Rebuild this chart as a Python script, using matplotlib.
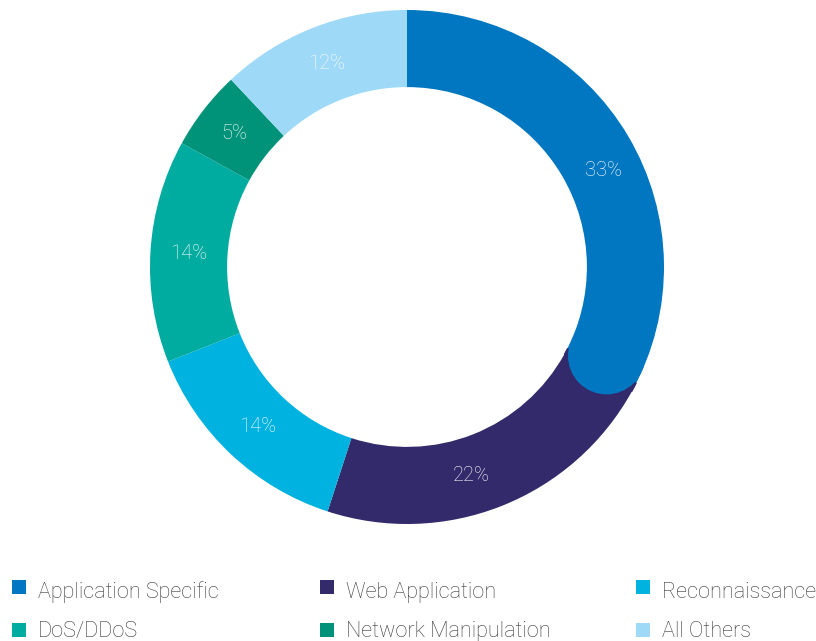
import numpy as np
import matplotlib
matplotlib.use("Agg")
import matplotlib.pyplot as plt
from matplotlib.patches import Circle, Rectangle, Wedge

categories = ["Application Specific", "Web Application", "Reconnaissance",
              "DoS/DDoS", "Network Manipulation", "All Others"]
values = [33, 22, 14, 14, 5, 12]
colors = ["#0077C0", "#322A6B", "#00B2DF", "#00ABA0", "#00937A", "#9ED9F7"]

plt.rcParams["font.family"] = ["Roboto", "DejaVu Sans"]

W, H = 816, 641
fig = plt.figure(figsize=(W / 100, H / 100), dpi=100)

# donut axes: centre (407, 267), outer radius 257 px
cx, cy, r_px = 407, 267, 257
ax = fig.add_axes([(cx - r_px) / W, (H - cy - r_px) / H, 2 * r_px / W, 2 * r_px / H])

ring = 0.30
ax.pie(values, colors=colors, startangle=90, counterclock=False, radius=1,
       wedgeprops=dict(width=ring, linewidth=0), normalize=True)
ax.set_xlim(-1, 1)
ax.set_ylim(-1, 1)
ax.set_aspect("equal")
ax.axis("off")

# rounded end of the first slice: trim the square corner, then add a round cap
total = sum(values)
cum = np.cumsum(values) / total * 360
mid_r = 1 - ring / 2
trim_deg = cum[0] - 2.0
ax.add_patch(Wedge((0, 0), 1.002, 90 - cum[0] - 0.3, 90 - trim_deg, width=ring + 0.004,
                   color=colors[1], linewidth=0, zorder=4))
cap_deg = cum[0] - 4.8
th = np.radians(90 - cap_deg)
ax.add_patch(Circle((mid_r * np.cos(th), mid_r * np.sin(th)), ring / 2,
                    color=colors[0], linewidth=0, zorder=5))

# percent labels
starts = np.concatenate([[0], cum[:-1]])
label_shift = [4.5, 4.5, 0, 0, 0, 0]
for v, s, e, sh in zip(values, starts, cum, label_shift):
    a = np.radians(90 - ((s + e) / 2 + sh))
    ax.text(mid_r * np.cos(a), mid_r * np.sin(a), f"{v}%", color="white",
            fontsize=14.5, fontweight="light", ha="center", va="center", zorder=6)

# legend
col_x = [12, 320, 636]
row_y = [587, 630]
base_y = [598, 637]
sq = 14
for i, (name, c) in enumerate(zip(categories, colors)):
    x = col_x[i % 3]
    y = row_y[i // 3]
    fig.patches.append(Rectangle((x / W, (H - y - sq / 2) / H), sq / W, sq / H,
                                 transform=fig.transFigure, color=c, linewidth=0))
    fig.text((x + 26) / W, (H - base_y[i // 3]) / H, name, color="#3a3a3a",
             fontsize=15.6, fontweight="light", ha="left", va="baseline")

fig.savefig("out.png", dpi=100)
